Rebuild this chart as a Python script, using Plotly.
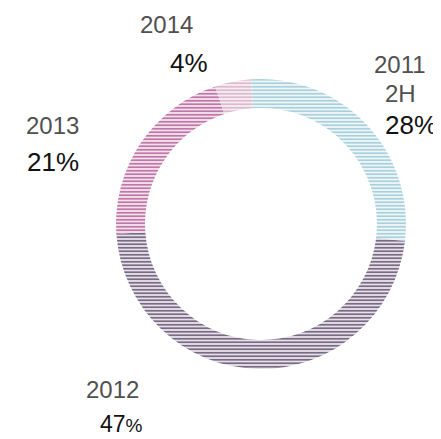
import plotly.graph_objects as go

labels = ["2011<br>2H", "2012", "2013", "2014"]
values = [28, 47, 21, 4]
pct_labels = ["28%", "47%", "21%", "4%"]
colors = ["#a3ccd9", "#6e5e7a", "#bb6a9f", "#d8b6ca"]
bg_colors = ["#eef6f8", "#e6e0ea", "#f3e2ec", "#f7edf2"]

W, H = 433, 431  # page body adds an 8px margin


def px(x):
    return (x - 8) / W


def py(y):
    return 1 - (y - 8) / H


fig = go.Figure()
fig.add_trace(go.Pie(
    labels=labels, values=values, sort=False, direction="clockwise", rotation=-4,
    hole=0.8, textinfo="none", hoverinfo="label+percent",
    marker=dict(colors=colors, line=dict(width=0),
                pattern=dict(shape="-", size=3.5, solidity=0.45,
                             fgcolor=colors, bgcolor=bg_colors, fillmode="replace")),
    domain=dict(x=[px(115), px(407)], y=[py(369), py(79)]),
    showlegend=False,
))

# label centres in pixels of the reference picture (one entry per text line)
pos_year = [[(400, 64), (400, 93)], [(112, 389)], [(52, 126)], [(166, 24)]]
pos_pct = [(411, 125), (121, 424), (53, 162), (189, 63)]
font_year = dict(family="Liberation Sans, Arial", size=24, color="#505050")
font_pct = dict(family="Liberation Sans, Arial", size=26, color="#111111")

for lab, pct, lines_pos, (xp, yp) in zip(labels, pct_labels, pos_year, pos_pct):
    for line, (xy, yy) in zip(lab.split("<br>"), lines_pos):
        fig.add_annotation(x=px(xy), y=py(yy), xref="paper", yref="paper", text=line,
                           showarrow=False, font=font_year, xanchor="center", yanchor="middle")
    txt = pct
    f = font_pct
    if pct == "47%":
        txt = pct[:-1] + "<span style='font-size:19px'>%</span>"
        f = dict(font_pct, size=23)
    fig.add_annotation(x=px(xp), y=py(yp), xref="paper", yref="paper", text=txt,
                       showarrow=False, font=f, xanchor="center", yanchor="middle")

fig.update_layout(width=W, height=H, margin=dict(l=0, r=0, t=0, b=0),
                  paper_bgcolor="white", plot_bgcolor="white")
fig.write_html("out.html")
